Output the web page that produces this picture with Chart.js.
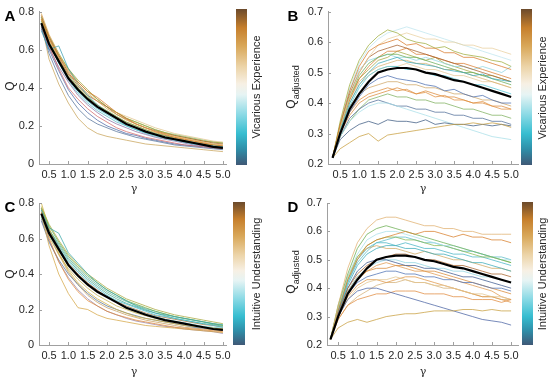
<!DOCTYPE html>
<html>
<head>
<meta charset="utf-8">
<script src="https://cdn.jsdelivr.net/npm/chart.js@4.4.1/dist/chart.umd.min.js"></script>
<style>
body { margin: 0; background: #fff; }
#fig { position: relative; width: 550px; height: 378px; overflow: hidden; font-family: "Liberation Sans", Arial, sans-serif; color: #262626; }
canvas { position: absolute; }
.letter { position: absolute; font-weight: bold; font-size: 15px; line-height: 1; color: #000; transform: translate(-50%, -50%); }
.ytitle { position: absolute; font-size: 12px; line-height: 1; white-space: nowrap; transform: translate(-50%, -50%) rotate(-90deg); }
.ytitle sub { font-size: 9px; }
.xtitle { position: absolute; font-size: 11px; line-height: 1; font-family: "DejaVu Serif", serif; transform: translate(-50%, -50%); }
.cbar { position: absolute; background: linear-gradient(to top, #3f5876 0%, #2f8ea8 10%, #36bdd0 20%, #8fdbe6 33%, #e6f4f4 45%, #f7f0e4 52%, #ecd4a8 63%, #d9a85a 76%, #c67f2c 88%, #6b4a2c 100%); }
.cblabel { position: absolute; font-size: 11px; line-height: 1; white-space: nowrap; transform: translate(-50%, -50%) rotate(-90deg); }
</style>
</head>
<body>
<div id="fig">
  <canvas id="chartA" width="240" height="188" style="left:0px;top:0px"></canvas>
  <canvas id="chartB" width="242" height="188" style="left:290px;top:0px"></canvas>
  <canvas id="chartC" width="240" height="181" style="left:0px;top:188px"></canvas>
  <canvas id="chartD" width="242" height="181" style="left:290px;top:188px"></canvas>

  <div class="letter" style="left:10px;top:15px">A</div>
  <div class="letter" style="left:293px;top:15px">B</div>
  <div class="letter" style="left:10px;top:206px">C</div>
  <div class="letter" style="left:293px;top:206px">D</div>

  <div class="ytitle" style="left:10px;top:86px">Q</div>
  <div class="ytitle" style="left:293px;top:87px">Q<sub>adjusted</sub></div>
  <div class="ytitle" style="left:10px;top:274px">Q</div>
  <div class="ytitle" style="left:293px;top:272px">Q<sub>adjusted</sub></div>

  <div class="xtitle" style="left:134px;top:188px">γ</div>
  <div class="xtitle" style="left:423px;top:188px">γ</div>
  <div class="xtitle" style="left:134px;top:371px">γ</div>
  <div class="xtitle" style="left:423px;top:371px">γ</div>

  <div class="cbar" style="left:236px;top:9px;width:11px;height:156px"></div>
  <div class="cbar" style="left:521px;top:9px;width:11px;height:156px"></div>
  <div class="cbar" style="left:233px;top:202px;width:12px;height:143px"></div>
  <div class="cbar" style="left:522px;top:202px;width:11px;height:143px"></div>

  <div class="cblabel" style="left:256px;top:87px">Vicarious Experience</div>
  <div class="cblabel" style="left:542px;top:88px">Vicarious Experience</div>
  <div class="cblabel" style="left:256px;top:274px">Intuitive Understanding</div>
  <div class="cblabel" style="left:542px;top:274px">Intuitive Understanding</div>
</div>

<script>
'use strict';

// gamma values where every curve is sampled
let xVals = [0.3, 0.5, 0.75, 1.0, 1.25, 1.5, 1.75, 2.0, 2.25, 2.5, 2.75, 3.0, 3.25, 3.5, 3.75, 4.0, 4.25, 4.5, 4.75, 5.0];
let xTicks = [0.5, 1.0, 1.5, 2.0, 2.5, 3.0, 3.5, 4.0, 4.5, 5.0];
let qTicks = [0, 0.2, 0.4, 0.6, 0.8];
let qAdjTicks = [0.2, 0.3, 0.4, 0.5, 0.6, 0.7];

// black mean curves
let meanQ = [0.74, 0.63, 0.54, 0.45, 0.39, 0.34, 0.30, 0.27, 0.24, 0.21, 0.19, 0.17, 0.155, 0.14, 0.13, 0.12, 0.11, 0.10, 0.09, 0.085];
let meanQAdj = [0.22, 0.30, 0.38, 0.43, 0.47, 0.50, 0.51, 0.515, 0.515, 0.51, 0.50, 0.495, 0.485, 0.475, 0.47, 0.46, 0.45, 0.44, 0.43, 0.42];

// panel A : Q per participant (vicarious experience)
let vicariousQ = [
  [0.79, 0.68, 0.58, 0.49, 0.42, 0.37, 0.33, 0.29, 0.26, 0.23, 0.21, 0.19, 0.17, 0.16, 0.145, 0.135, 0.125, 0.115, 0.105, 0.10],
  [0.70, 0.60, 0.62, 0.50, 0.42, 0.36, 0.31, 0.27, 0.24, 0.21, 0.19, 0.17, 0.155, 0.14, 0.13, 0.12, 0.11, 0.10, 0.095, 0.09],
  [0.76, 0.66, 0.56, 0.47, 0.43, 0.38, 0.35, 0.31, 0.27, 0.24, 0.21, 0.19, 0.17, 0.155, 0.14, 0.13, 0.12, 0.11, 0.10, 0.095],
  [0.72, 0.58, 0.46, 0.36, 0.29, 0.24, 0.21, 0.19, 0.17, 0.155, 0.14, 0.13, 0.12, 0.11, 0.10, 0.095, 0.09, 0.085, 0.08, 0.075],
  [0.74, 0.55, 0.42, 0.32, 0.24, 0.19, 0.16, 0.145, 0.135, 0.125, 0.115, 0.105, 0.10, 0.095, 0.09, 0.085, 0.08, 0.075, 0.07, 0.065],
  [0.75, 0.64, 0.55, 0.47, 0.40, 0.35, 0.31, 0.28, 0.25, 0.22, 0.20, 0.18, 0.16, 0.15, 0.135, 0.125, 0.115, 0.105, 0.10, 0.09],
  [0.78, 0.67, 0.57, 0.48, 0.41, 0.36, 0.33, 0.30, 0.26, 0.235, 0.21, 0.19, 0.175, 0.16, 0.15, 0.14, 0.13, 0.12, 0.11, 0.105],
  [0.72, 0.62, 0.50, 0.40, 0.34, 0.29, 0.25, 0.22, 0.19, 0.17, 0.155, 0.14, 0.13, 0.12, 0.11, 0.10, 0.095, 0.09, 0.085, 0.08],
  [0.73, 0.63, 0.53, 0.45, 0.38, 0.33, 0.29, 0.26, 0.23, 0.20, 0.18, 0.165, 0.15, 0.135, 0.125, 0.115, 0.105, 0.10, 0.09, 0.085],
  [0.77, 0.66, 0.57, 0.50, 0.44, 0.39, 0.34, 0.30, 0.27, 0.24, 0.22, 0.20, 0.18, 0.165, 0.15, 0.14, 0.13, 0.12, 0.115, 0.11],
  [0.71, 0.60, 0.49, 0.39, 0.32, 0.27, 0.23, 0.20, 0.18, 0.16, 0.15, 0.135, 0.125, 0.115, 0.105, 0.10, 0.095, 0.09, 0.085, 0.08],
  [0.75, 0.65, 0.56, 0.49, 0.43, 0.38, 0.34, 0.30, 0.27, 0.25, 0.23, 0.21, 0.19, 0.175, 0.16, 0.15, 0.14, 0.13, 0.12, 0.115],
  [0.73, 0.61, 0.51, 0.43, 0.36, 0.31, 0.27, 0.235, 0.21, 0.19, 0.17, 0.155, 0.14, 0.13, 0.12, 0.11, 0.10, 0.095, 0.09, 0.085],
  [0.76, 0.65, 0.55, 0.46, 0.40, 0.35, 0.31, 0.275, 0.245, 0.22, 0.20, 0.18, 0.165, 0.15, 0.14, 0.13, 0.12, 0.11, 0.10, 0.095],
  [0.77, 0.67, 0.58, 0.50, 0.43, 0.38, 0.34, 0.30, 0.27, 0.24, 0.22, 0.20, 0.18, 0.165, 0.155, 0.145, 0.135, 0.125, 0.115, 0.11],
  [0.74, 0.63, 0.53, 0.44, 0.37, 0.32, 0.28, 0.25, 0.22, 0.20, 0.18, 0.16, 0.145, 0.135, 0.125, 0.115, 0.105, 0.10, 0.09, 0.085]
];

// panel B : adjusted Q per participant (vicarious experience)
let vicariousQAdj = [
  [0.22, 0.25, 0.27, 0.29, 0.30, 0.275, 0.295, 0.30, 0.305, 0.31, 0.315, 0.32, 0.325, 0.33, 0.33, 0.335, 0.33, 0.335, 0.33, 0.32],
  [0.22, 0.28, 0.31, 0.33, 0.34, 0.33, 0.345, 0.34, 0.34, 0.335, 0.345, 0.33, 0.335, 0.33, 0.33, 0.325, 0.33, 0.325, 0.33, 0.325],
  [0.22, 0.29, 0.34, 0.37, 0.39, 0.40, 0.40, 0.39, 0.38, 0.37, 0.36, 0.35, 0.34, 0.33, 0.32, 0.31, 0.30, 0.29, 0.285, 0.28],
  [0.22, 0.33, 0.44, 0.52, 0.57, 0.59, 0.60, 0.61, 0.59, 0.595, 0.58, 0.58, 0.565, 0.565, 0.55, 0.55, 0.54, 0.53, 0.52, 0.51],
  [0.22, 0.34, 0.46, 0.54, 0.59, 0.62, 0.64, 0.63, 0.61, 0.60, 0.595, 0.58, 0.585, 0.57, 0.56, 0.555, 0.55, 0.54, 0.535, 0.52],
  [0.22, 0.32, 0.42, 0.50, 0.55, 0.59, 0.61, 0.62, 0.63, 0.62, 0.61, 0.61, 0.60, 0.60, 0.59, 0.59, 0.58, 0.58, 0.57, 0.56],
  [0.22, 0.31, 0.40, 0.46, 0.50, 0.53, 0.54, 0.55, 0.535, 0.53, 0.525, 0.52, 0.51, 0.505, 0.50, 0.49, 0.495, 0.48, 0.475, 0.47],
  [0.22, 0.30, 0.37, 0.42, 0.46, 0.48, 0.49, 0.48, 0.475, 0.47, 0.46, 0.455, 0.44, 0.445, 0.43, 0.42, 0.425, 0.41, 0.40, 0.40],
  [0.22, 0.32, 0.42, 0.49, 0.53, 0.55, 0.56, 0.56, 0.55, 0.55, 0.54, 0.53, 0.52, 0.51, 0.50, 0.50, 0.49, 0.48, 0.47, 0.46],
  [0.22, 0.30, 0.37, 0.41, 0.43, 0.44, 0.45, 0.44, 0.445, 0.43, 0.435, 0.42, 0.425, 0.41, 0.41, 0.40, 0.405, 0.39, 0.38, 0.38],
  [0.22, 0.33, 0.43, 0.50, 0.55, 0.57, 0.58, 0.59, 0.58, 0.57, 0.56, 0.55, 0.54, 0.53, 0.52, 0.51, 0.50, 0.49, 0.48, 0.47],
  [0.22, 0.31, 0.39, 0.45, 0.49, 0.51, 0.52, 0.52, 0.51, 0.51, 0.50, 0.49, 0.49, 0.48, 0.47, 0.46, 0.46, 0.45, 0.44, 0.43],
  [0.22, 0.29, 0.35, 0.38, 0.40, 0.41, 0.40, 0.39, 0.39, 0.38, 0.38, 0.37, 0.37, 0.36, 0.36, 0.35, 0.35, 0.34, 0.34, 0.33],
  [0.22, 0.31, 0.39, 0.43, 0.45, 0.46, 0.47, 0.47, 0.46, 0.46, 0.45, 0.45, 0.44, 0.43, 0.43, 0.42, 0.41, 0.41, 0.40, 0.39],
  [0.22, 0.32, 0.41, 0.48, 0.52, 0.55, 0.57, 0.57, 0.58, 0.56, 0.56, 0.55, 0.54, 0.53, 0.53, 0.52, 0.51, 0.50, 0.49, 0.48],
  [0.22, 0.33, 0.45, 0.53, 0.58, 0.61, 0.63, 0.64, 0.65, 0.64, 0.63, 0.62, 0.61, 0.60, 0.59, 0.58, 0.57, 0.56, 0.55, 0.54],
  [0.22, 0.29, 0.34, 0.38, 0.41, 0.42, 0.43, 0.42, 0.42, 0.41, 0.41, 0.40, 0.40, 0.39, 0.38, 0.38, 0.37, 0.36, 0.36, 0.35],
  [0.22, 0.32, 0.41, 0.47, 0.50, 0.52, 0.53, 0.54, 0.54, 0.53, 0.53, 0.52, 0.51, 0.51, 0.50, 0.49, 0.48, 0.47, 0.46, 0.45],
  [0.22, 0.31, 0.40, 0.46, 0.49, 0.51, 0.52, 0.52, 0.53, 0.52, 0.51, 0.51, 0.50, 0.49, 0.49, 0.48, 0.47, 0.47, 0.46, 0.45],
  [0.22, 0.33, 0.44, 0.51, 0.54, 0.55, 0.56, 0.55, 0.55, 0.54, 0.55, 0.54, 0.53, 0.52, 0.52, 0.51, 0.52, 0.51, 0.50, 0.52],
  [0.22, 0.30, 0.36, 0.40, 0.42, 0.43, 0.44, 0.45, 0.44, 0.43, 0.44, 0.43, 0.42, 0.42, 0.41, 0.40, 0.40, 0.39, 0.39, 0.38],
  [0.22, 0.32, 0.42, 0.48, 0.51, 0.54, 0.55, 0.57, 0.56, 0.55, 0.54, 0.55, 0.53, 0.52, 0.51, 0.50, 0.49, 0.49, 0.48, 0.47]
];

// panel C : Q per participant (intuitive understanding)
let intuitiveQ = [
  [0.74, 0.56, 0.40, 0.29, 0.21, 0.20, 0.17, 0.15, 0.14, 0.13, 0.12, 0.11, 0.105, 0.10, 0.095, 0.09, 0.085, 0.08, 0.075, 0.07],
  [0.76, 0.66, 0.63, 0.52, 0.46, 0.40, 0.35, 0.31, 0.28, 0.25, 0.22, 0.20, 0.18, 0.17, 0.16, 0.15, 0.14, 0.13, 0.12, 0.115],
  [0.77, 0.67, 0.58, 0.50, 0.44, 0.39, 0.35, 0.31, 0.28, 0.25, 0.23, 0.21, 0.19, 0.175, 0.16, 0.15, 0.14, 0.13, 0.12, 0.11],
  [0.80, 0.66, 0.52, 0.42, 0.35, 0.30, 0.26, 0.23, 0.20, 0.18, 0.16, 0.15, 0.14, 0.13, 0.12, 0.11, 0.105, 0.10, 0.095, 0.09],
  [0.72, 0.62, 0.53, 0.45, 0.39, 0.34, 0.30, 0.27, 0.24, 0.215, 0.195, 0.175, 0.16, 0.145, 0.135, 0.125, 0.115, 0.105, 0.10, 0.095],
  [0.75, 0.60, 0.47, 0.37, 0.30, 0.25, 0.22, 0.19, 0.17, 0.155, 0.14, 0.13, 0.12, 0.11, 0.10, 0.095, 0.09, 0.085, 0.08, 0.075],
  [0.78, 0.68, 0.59, 0.51, 0.45, 0.40, 0.36, 0.32, 0.29, 0.26, 0.24, 0.22, 0.20, 0.185, 0.17, 0.16, 0.15, 0.14, 0.13, 0.12],
  [0.70, 0.58, 0.48, 0.40, 0.34, 0.29, 0.25, 0.22, 0.20, 0.18, 0.165, 0.15, 0.14, 0.13, 0.12, 0.11, 0.10, 0.095, 0.09, 0.085],
  [0.73, 0.64, 0.55, 0.47, 0.41, 0.36, 0.32, 0.28, 0.25, 0.23, 0.21, 0.19, 0.17, 0.16, 0.15, 0.14, 0.13, 0.12, 0.11, 0.10],
  [0.76, 0.63, 0.51, 0.41, 0.34, 0.28, 0.24, 0.21, 0.19, 0.17, 0.155, 0.14, 0.13, 0.12, 0.11, 0.10, 0.095, 0.09, 0.085, 0.08],
  [0.74, 0.65, 0.56, 0.48, 0.42, 0.37, 0.33, 0.29, 0.26, 0.235, 0.215, 0.195, 0.18, 0.165, 0.15, 0.14, 0.13, 0.12, 0.115, 0.105],
  [0.71, 0.59, 0.47, 0.38, 0.31, 0.26, 0.22, 0.19, 0.17, 0.15, 0.135, 0.125, 0.115, 0.105, 0.10, 0.09, 0.085, 0.08, 0.075, 0.065],
  [0.77, 0.65, 0.55, 0.46, 0.40, 0.35, 0.31, 0.27, 0.245, 0.22, 0.20, 0.18, 0.165, 0.155, 0.145, 0.135, 0.125, 0.115, 0.11, 0.10],
  [0.75, 0.65, 0.57, 0.49, 0.43, 0.38, 0.34, 0.30, 0.27, 0.245, 0.225, 0.205, 0.19, 0.175, 0.16, 0.15, 0.14, 0.13, 0.12, 0.11],
  [0.72, 0.61, 0.51, 0.43, 0.37, 0.32, 0.28, 0.25, 0.22, 0.20, 0.18, 0.165, 0.15, 0.14, 0.13, 0.12, 0.11, 0.10, 0.095, 0.09]
];

// panel D : adjusted Q per participant (intuitive understanding)
let intuitiveQAdj = [
  [0.22, 0.26, 0.28, 0.29, 0.28, 0.29, 0.30, 0.305, 0.31, 0.31, 0.315, 0.32, 0.32, 0.32, 0.325, 0.325, 0.32, 0.325, 0.32, 0.32],
  [0.22, 0.30, 0.36, 0.39, 0.40, 0.40, 0.39, 0.38, 0.37, 0.36, 0.35, 0.34, 0.33, 0.32, 0.31, 0.30, 0.29, 0.285, 0.28, 0.27],
  [0.22, 0.34, 0.47, 0.56, 0.61, 0.64, 0.65, 0.65, 0.64, 0.63, 0.62, 0.62, 0.61, 0.61, 0.60, 0.60, 0.59, 0.59, 0.59, 0.59],
  [0.22, 0.32, 0.43, 0.50, 0.55, 0.57, 0.58, 0.59, 0.60, 0.59, 0.60, 0.60, 0.59, 0.58, 0.59, 0.58, 0.58, 0.57, 0.57, 0.56],
  [0.22, 0.34, 0.45, 0.54, 0.59, 0.61, 0.62, 0.61, 0.60, 0.59, 0.58, 0.57, 0.56, 0.55, 0.54, 0.53, 0.52, 0.51, 0.50, 0.49],
  [0.22, 0.33, 0.44, 0.52, 0.57, 0.59, 0.60, 0.60, 0.59, 0.58, 0.57, 0.56, 0.55, 0.55, 0.54, 0.53, 0.52, 0.51, 0.50, 0.50],
  [0.22, 0.31, 0.38, 0.42, 0.44, 0.45, 0.46, 0.46, 0.45, 0.45, 0.44, 0.44, 0.43, 0.43, 0.42, 0.42, 0.41, 0.40, 0.40, 0.39],
  [0.22, 0.29, 0.34, 0.36, 0.37, 0.38, 0.38, 0.39, 0.39, 0.39, 0.38, 0.38, 0.38, 0.37, 0.37, 0.36, 0.36, 0.36, 0.35, 0.36],
  [0.22, 0.30, 0.36, 0.40, 0.42, 0.43, 0.43, 0.44, 0.43, 0.42, 0.42, 0.41, 0.41, 0.40, 0.39, 0.38, 0.38, 0.37, 0.37, 0.36],
  [0.22, 0.32, 0.41, 0.48, 0.52, 0.54, 0.55, 0.55, 0.54, 0.54, 0.53, 0.52, 0.52, 0.51, 0.50, 0.49, 0.49, 0.48, 0.47, 0.46],
  [0.22, 0.31, 0.40, 0.45, 0.48, 0.50, 0.51, 0.52, 0.52, 0.51, 0.50, 0.50, 0.49, 0.48, 0.48, 0.47, 0.46, 0.45, 0.45, 0.44],
  [0.22, 0.33, 0.43, 0.51, 0.55, 0.57, 0.58, 0.58, 0.57, 0.57, 0.56, 0.55, 0.55, 0.54, 0.53, 0.52, 0.51, 0.51, 0.50, 0.49],
  [0.22, 0.30, 0.37, 0.41, 0.43, 0.43, 0.42, 0.43, 0.44, 0.44, 0.43, 0.42, 0.41, 0.40, 0.39, 0.38, 0.37, 0.37, 0.36, 0.35],
  [0.22, 0.32, 0.40, 0.46, 0.49, 0.50, 0.50, 0.49, 0.48, 0.48, 0.47, 0.47, 0.46, 0.45, 0.44, 0.44, 0.43, 0.42, 0.41, 0.40],
  [0.22, 0.33, 0.44, 0.51, 0.54, 0.55, 0.54, 0.54, 0.53, 0.52, 0.53, 0.52, 0.51, 0.50, 0.50, 0.49, 0.48, 0.47, 0.47, 0.46],
  [0.22, 0.31, 0.39, 0.44, 0.47, 0.49, 0.50, 0.50, 0.49, 0.49, 0.48, 0.47, 0.47, 0.46, 0.46, 0.45, 0.44, 0.44, 0.43, 0.42],
  [0.22, 0.31, 0.39, 0.43, 0.46, 0.47, 0.47, 0.48, 0.48, 0.47, 0.46, 0.46, 0.45, 0.44, 0.43, 0.42, 0.41, 0.40, 0.39, 0.38],
  [0.22, 0.32, 0.42, 0.49, 0.53, 0.56, 0.57, 0.58, 0.58, 0.57, 0.56, 0.56, 0.55, 0.54, 0.53, 0.53, 0.52, 0.51, 0.51, 0.50],
  [0.22, 0.31, 0.39, 0.44, 0.46, 0.48, 0.49, 0.48, 0.47, 0.46, 0.46, 0.45, 0.44, 0.43, 0.42, 0.41, 0.40, 0.39, 0.37, 0.36],
  [0.22, 0.32, 0.42, 0.50, 0.54, 0.56, 0.56, 0.55, 0.56, 0.55, 0.54, 0.54, 0.53, 0.52, 0.52, 0.51, 0.51, 0.50, 0.49, 0.48],
  [0.22, 0.29, 0.34, 0.37, 0.39, 0.41, 0.42, 0.42, 0.43, 0.42, 0.42, 0.41, 0.40, 0.40, 0.39, 0.38, 0.37, 0.37, 0.36, 0.36]
];

// line colours
let paletteA = ['#d9a24a', '#3c9fb2', '#d9782a', '#56739c', '#c9a55c', '#6fb05a', '#a8642c', '#d76a6a', '#46c3d3', '#a6a43c', '#4f6aa8', '#e2c48c', '#8d73a8', '#e08c30', '#7cc06a', '#5cb8c4'];
let paletteB = ['#c9a040', '#3f5b82', '#a9dfe8', '#d97a2a', '#9fae3e', '#ead0a0', '#3aa9b9', '#4d70b0', '#6aac58', '#e09040', '#a8602c', '#55c6d6', '#53709a', '#cfa868', '#d87d30', '#bfe6ef', '#7fb060', '#d8b070', '#e6c898', '#8fd6e2', '#dd8c3c', '#a4a840'];
let paletteC = ['#d6a848', '#3aa7a7', '#6eae4a', '#d2b040', '#70c8cc', '#e08a3a', '#a8a83c', '#577596', '#48bcd0', '#c8a060', '#4aa88a', '#9a84a8', '#a8703a', '#5ab0a0', '#c0b050'];
let paletteD = ['#c9a040', '#4a64a4', '#e0b070', '#d9802c', '#6aae50', '#a8dfe8', '#4e72b4', '#e08c40', '#e2c490', '#3aaab8', '#a8642c', '#88b850', '#e09848', '#3e5a90', '#d0a860', '#90d4e0', '#d88a38', '#5cbcc8', '#e09a50', '#48b4c4', '#d4b078'];

let innerTicks = {
  id: 'innerTicks',
  afterDraw(chart) {
    let ctx = chart.ctx;
    let area = chart.chartArea;
    let xs = chart.scales.x;
    let ys = chart.scales.y;
    ctx.save();
    ctx.strokeStyle = '#a0a0a0';
    ctx.lineWidth = 1;
    ctx.beginPath();
    xs.ticks.forEach(t => {
      let px = Math.round(xs.getPixelForValue(t.value)) + 0.5;
      ctx.moveTo(px, area.bottom);
      ctx.lineTo(px, area.bottom - 3);
    });
    ys.ticks.forEach(t => {
      let py = Math.round(ys.getPixelForValue(t.value)) + 0.5;
      ctx.moveTo(area.left, py);
      ctx.lineTo(area.left + 3, py);
    });
    ctx.stroke();
    ctx.restore();
  }
};

let tickFont = { family: '"Liberation Sans", Arial, sans-serif', size: 11 };

function drawPanel(canvasId, series, palette, mean, yTicks, geo) {
  let datasets = [{
    data: xVals.map((x, i) => ({ x: x, y: mean[i] })),
    borderColor: '#000',
    borderWidth: 2.2,
    pointRadius: 0,
    tension: 0
  }];
  for (let k = 0; k < series.length; k++) {
    datasets.push({
      data: xVals.map((x, i) => ({ x: x, y: series[k][i] })),
      borderColor: palette[k % palette.length] + 'c0',
      borderWidth: 1,
      pointRadius: 0,
      tension: 0
    });
  }
  new Chart(document.getElementById(canvasId), {
    type: 'line',
    data: { datasets: datasets },
    options: {
      responsive: false,
      animation: false,
      layout: { padding: { top: geo.padTop, right: 14, left: 0, bottom: 0 } },
      plugins: { legend: { display: false }, tooltip: { enabled: false } },
      scales: {
        x: {
          type: 'linear',
          min: geo.xMin,
          max: geo.xMax,
          afterBuildTicks: s => { s.ticks = xTicks.map(v => ({ value: v })); },
          afterFit: s => { s.height = 24; },
          grid: { display: false, drawTicks: false, tickLength: 0 },
          border: { color: '#a0a0a0' },
          ticks: { padding: 4, color: '#262626', font: tickFont, maxRotation: 0, callback: v => v.toFixed(1) }
        },
        y: {
          min: yTicks[0],
          max: yTicks[yTicks.length - 1],
          afterBuildTicks: s => { s.ticks = yTicks.map(v => ({ value: v })); },
          afterFit: s => { s.width = geo.yWidth; },
          grid: { display: false, drawTicks: false, tickLength: 0 },
          border: { color: '#a0a0a0' },
          ticks: { padding: 5, color: '#262626', font: tickFont, callback: v => v === 0 ? '0' : v.toFixed(1) }
        }
      }
    },
    plugins: [innerTicks]
  });
}

drawPanel('chartA', vicariousQ, paletteA, meanQ, qTicks, { padTop: 10, yWidth: 39, xMin: 0.24, xMax: 5.08 });
drawPanel('chartB', vicariousQAdj, paletteB, meanQAdj, qAdjTicks, { padTop: 9, yWidth: 38, xMin: 0.18, xMax: 5.18 });
drawPanel('chartC', intuitiveQ, paletteC, meanQ, qTicks, { padTop: 15, yWidth: 39, xMin: 0.24, xMax: 5.08 });
drawPanel('chartD', intuitiveQAdj, paletteD, meanQAdj, qAdjTicks, { padTop: 15, yWidth: 37, xMin: 0.21, xMax: 5.18 });
</script>
</body>
</html>
